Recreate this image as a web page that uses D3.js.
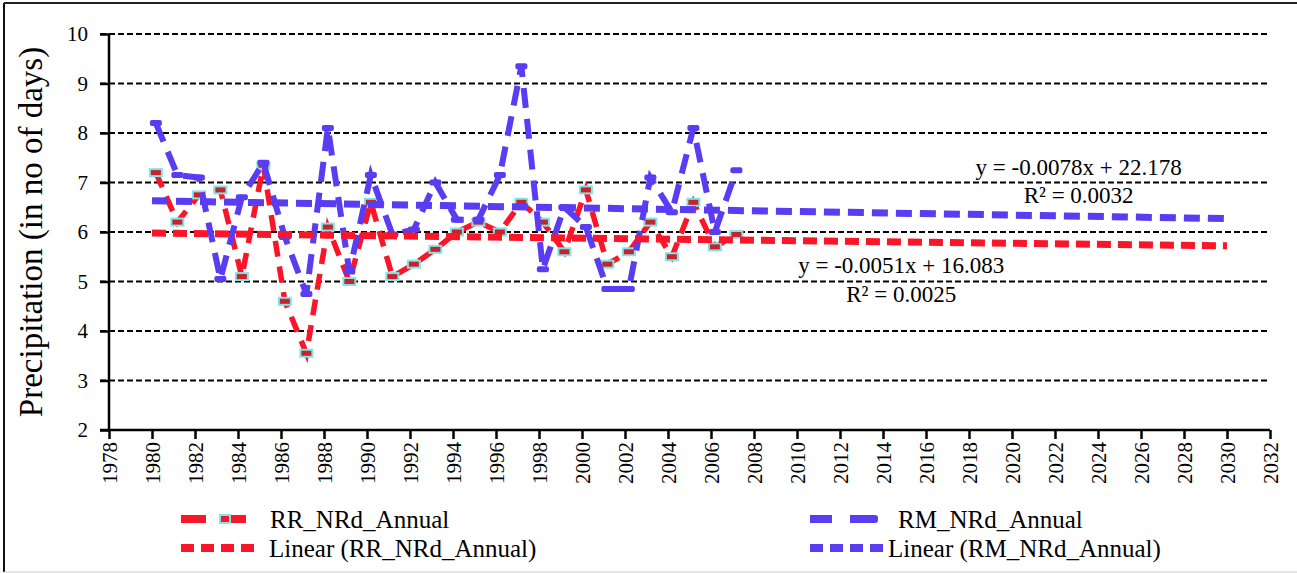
<!DOCTYPE html>
<html>
<head>
<meta charset="utf-8">
<script src="https://cdn.jsdelivr.net/npm/d3@7"></script>
<style>
	body { margin: 0; background: #fff; }
	svg { display: block; }
	text { font-family: 'Liberation Serif', 'Times New Roman', serif; fill: #000; }
</style>
</head>
<body>
<svg id="chart"></svg>
<script>
// data
let years = [1980, 1981, 1982, 1983, 1984, 1985, 1986, 1987, 1988, 1989, 1990, 1991, 1992, 1993,
	1994, 1995, 1996, 1997, 1998, 1999, 2000, 2001, 2002, 2003, 2004, 2005, 2006, 2007];
let rrValues = [7.2, 6.2, 6.75, 6.85, 5.1, 7.35, 4.6, 3.55, 6.1, 5.0, 6.6, 5.1, 5.35, 5.65,
	6.0, 6.2, 6.0, 6.6, 6.2, 5.6, 6.85, 5.35, 5.6, 6.2, 5.5, 6.6, 5.7, 5.95];
let rmValues = [8.2, 7.15, 7.1, 5.05, 6.7, 7.4, 5.9, 4.75, 8.1, 5.2, 7.15, 5.95, 6.05, 7.0,
	6.25, 6.25, 7.15, 9.35, 5.25, 6.5, 6.1, 4.85, 4.85, 7.1, 6.4, 8.1, 6.0, 7.25];

// trend lines (end points)
let trendYears = [1980, 2030];
let rrTrend = [5.98, 5.72];
let rmTrend = [6.63, 6.27];

let xTicks = [1978, 1980, 1982, 1984, 1986, 1988, 1990, 1992, 1994, 1996, 1998, 2000, 2002, 2004,
	2006, 2008, 2010, 2012, 2014, 2016, 2018, 2020, 2022, 2024, 2026, 2028, 2030, 2032];
let yTicks = [2, 3, 4, 5, 6, 7, 8, 9, 10];

let seriesNames = ['RR_NRd_Annual', 'RM_NRd_Annual'];
let trendNames = ['Linear (RR_NRd_Annual)', 'Linear (RM_NRd_Annual)'];
let equations = [
	{ eq: 'y = -0.0051x + 16.083', r2: 'R² = 0.0025' },
	{ eq: 'y = -0.0078x + 22.178', r2: 'R² = 0.0032' }
];

let red = '#fb1528';
let blue = '#5a3cf2';
let cyan = '#7de6e6';

let W = 1297, H = 573;
let margin = { top: 34, right: 27, bottom: 143, left: 109 };
let width = W - margin.left - margin.right;
let height = H - margin.top - margin.bottom;

let svg = d3.select('#chart').attr('width', W).attr('height', H);

// outer frame
svg.append('line').attr('x1', 4).attr('x2', 4).attr('y1', 3).attr('y2', 572)
	.style('stroke', '#111').style('stroke-width', 2);
svg.append('line').attr('x1', 4).attr('x2', W).attr('y1', 3).attr('y2', 3)
	.style('stroke', '#222').style('stroke-width', 2);
svg.append('line').attr('x1', 4).attr('x2', W).attr('y1', 572).attr('y2', 572)
	.style('stroke', '#ccc').style('stroke-width', 1);

let g = svg.append('g')
	.attr('transform', 'translate(' + margin.left + ',' + margin.top + ')');

let x = d3.scaleLinear().domain([1978, 2032]).range([0, width]);
let y = d3.scaleLinear().domain([2, 10]).range([height, 0]);
let xShift = 0.18; // points sit a little right of the year ticks

// grid
g.selectAll('.grid')
	.data(yTicks.filter(function(d) { return d > 2 }))
	.enter()
	.append('line')
	.attr('class', 'grid')
	.attr('x1', -9)
	.attr('x2', width)
	.attr('y1', function(d) { return y(d) })
	.attr('y2', function(d) { return y(d) })
	.style('stroke', '#000')
	.style('stroke-width', 2)
	.style('stroke-dasharray', '6,3');

// axes
let yAxis = g.append('g')
	.call(d3.axisLeft(y).tickValues(yTicks).tickSize(9).tickPadding(12).tickFormat(d3.format('d')));
let xAxis = g.append('g')
	.attr('transform', 'translate(0,' + height + ')')
	.call(d3.axisBottom(x).tickValues(xTicks).tickSize(9).tickFormat(d3.format('d')));

[yAxis, xAxis].forEach(function(a) {
	a.attr('font-family', null).attr('font-size', null);
	a.select('.domain').style('stroke', '#000').style('stroke-width', 2.5);
	a.selectAll('.tick line').style('stroke', '#000').style('stroke-width', 2.5);
	a.selectAll('text').style('font-size', '21px').style('fill', '#000');
});
xAxis.select('.domain').attr('d', 'M-9,0H' + width);
yAxis.select('.domain').attr('d', 'M0,' + height + 'V0');
xAxis.selectAll('.tick text')
	.attr('transform', 'rotate(-90)')
	.attr('text-anchor', 'end')
	.attr('dy', '0.35em')
	.attr('x', -12)
	.attr('y', 0);

// y title
svg.append('text')
	.attr('transform', 'translate(42,' + (margin.top + height / 2) + ') rotate(-90)')
	.attr('text-anchor', 'middle')
	.style('font-size', '33px')
	.text('Precipitation (in no of days)');

let rrData = years.map(function(yr, i) { return { year: yr, value: rrValues[i] } });
let rmData = years.map(function(yr, i) { return { year: yr, value: rmValues[i] } });

let line = d3.line()
	.x(function(d) { return x(d.year + xShift) })
	.y(function(d) { return y(d.value) });

// RR series
g.append('path')
	.datum(rrData)
	.attr('d', line)
	.style('fill', 'none')
	.style('stroke', red)
	.style('stroke-width', 5.5)
	.style('stroke-dasharray', '16,10');

g.selectAll('.rr-marker')
	.data(rrData)
	.enter()
	.append('rect')
	.attr('class', 'rr-marker')
	.attr('x', function(d) { return x(d.year + xShift) - 6 })
	.attr('y', function(d) { return y(d.value) - 3.5 })
	.attr('width', 12)
	.attr('height', 7)
	.style('fill', '#c8222c')
	.style('stroke', cyan)
	.style('stroke-width', 2);

// RM series
g.append('path')
	.datum(rmData)
	.attr('d', line)
	.style('fill', 'none')
	.style('stroke', blue)
	.style('stroke-width', 6)
	.style('stroke-dasharray', '20,11');

g.selectAll('.rm-marker')
	.data(rmData)
	.enter()
	.append('rect')
	.attr('class', 'rm-marker')
	.attr('x', function(d) { return x(d.year + xShift) - 6 })
	.attr('y', function(d) { return y(d.value) - 3 })
	.attr('width', 12)
	.attr('height', 6)
	.attr('rx', 2)
	.style('fill', blue);

// trend lines
let trendLine = d3.line()
	.x(function(d) { return x(d[0]) })
	.y(function(d) { return y(d[1]) });

g.append('path')
	.attr('d', trendLine(d3.zip(trendYears, rrTrend)))
	.style('fill', 'none')
	.style('stroke', red)
	.style('stroke-width', 7)
	.style('stroke-dasharray', '14,7');

g.append('path')
	.attr('d', trendLine(d3.zip(trendYears, rmTrend)))
	.style('fill', 'none')
	.style('stroke', blue)
	.style('stroke-width', 7)
	.style('stroke-dasharray', '16,8');

// equation labels
let eqPos = [{ x: 2014.85, y: 5.17, ry: 4.59 }, { x: 2023.1, y: 7.15, ry: 6.59 }];
equations.forEach(function(e, i) {
	g.append('text')
		.attr('x', x(eqPos[i].x))
		.attr('y', y(eqPos[i].y))
		.attr('text-anchor', 'middle')
		.style('font-size', '23px')
		.text(e.eq);
	g.append('text')
		.attr('x', x(eqPos[i].x))
		.attr('y', y(eqPos[i].ry))
		.attr('text-anchor', 'middle')
		.style('font-size', '23px')
		.text(e.r2);
});

// legend
let legendCols = [181, 810];
let legendRows = [519, 548];
let textX = [270, 898];
let textX2 = [269, 888];
let colors = [red, blue];

seriesNames.forEach(function(name, i) {
	let lg = svg.append('g');
	lg.append('line')
		.attr('x1', legendCols[i]).attr('x2', legendCols[i] + 68)
		.attr('y1', legendRows[0]).attr('y2', legendRows[0])
		.style('stroke', colors[i])
		.style('stroke-width', 8)
		.style('stroke-dasharray', i == 0 ? '25,15' : '22,18');
	if(i == 0) {
		lg.append('rect')
			.attr('x', legendCols[i] + 39).attr('y', legendRows[0] - 4)
			.attr('width', 10).attr('height', 8)
			.style('fill', red).style('stroke', cyan).style('stroke-width', 2);
	} else {
		lg.append('rect')
			.attr('x', legendCols[i] + 40).attr('y', legendRows[0] - 4)
			.attr('width', 28).attr('height', 8).attr('rx', 3)
			.style('fill', blue);
	}
	lg.append('text')
		.attr('x', textX[i])
		.attr('y', legendRows[0])
		.attr('dy', '0.35em')
		.style('font-size', '25px')
		.text(name);

	lg.append('line')
		.attr('x1', legendCols[i]).attr('x2', legendCols[i] + 78)
		.attr('y1', legendRows[1]).attr('y2', legendRows[1])
		.style('stroke', colors[i])
		.style('stroke-width', 8)
		.style('stroke-dasharray', '13,7');
	lg.append('text')
		.attr('x', textX2[i])
		.attr('y', legendRows[1])
		.attr('dy', '0.35em')
		.style('font-size', '25px')
		.text(trendNames[i]);
});
</script>
</body>
</html>
